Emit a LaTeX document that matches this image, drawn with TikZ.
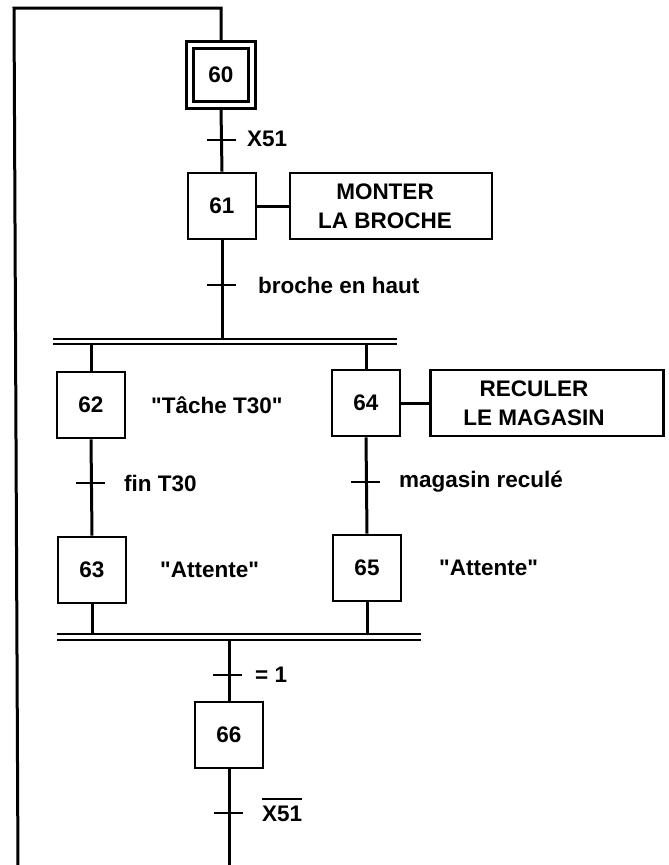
\documentclass[tikz,border=0pt]{standalone}
\usepackage{fontspec}
\setmainfont{Liberation Sans}
\begin{document}
\begin{tikzpicture}[x=1pt,y=-1pt,
  txt/.style={font=\bfseries\fontsize{22.5}{29}\selectfont, inner sep=0pt},
  stepbox/.style={txt, draw, line width=2.7pt, minimum width=68pt, minimum height=66pt},
  initbox/.style={txt, draw, line width=2.4pt, double, double distance=4.6pt,
      minimum width=62pt, minimum height=60pt, outer sep=4.7pt},
  actbox/.style={txt, draw, line width=2.7pt, minimum height=66pt, align=center},
  lnk/.style={line width=3pt},
  bar/.style={line width=2.6pt},
  tick/.style={line width=2.6pt},
  lbl/.style={txt, anchor=west}
]
\clip (0,0) rectangle (669,865);
\useasboundingbox (0,0) rectangle (669,865);

% steps
\node[initbox]  (s60) at (221,75)  {60};
\node[stepbox]  (s61) at (222,206) {61};
\node[stepbox]  (s62) at (91,405)  {62};
\node[stepbox]  (s63) at (92,570)  {63};
\node[stepbox]  (s64) at (366,403) {64};
\node[stepbox]  (s65) at (367,568) {65};
\node[stepbox]  (s66) at (229,735) {66};

% actions
\node[actbox, minimum width=202pt] (a61) at (391,206) {};
\node[txt, align=center] (a61t) at (385,206) {MONTER\\LA BROCHE};
\node[actbox, minimum width=233pt] (a64) at (547,403) {};
\node[txt, align=center] (a64t) at (534,403) {RECULER\\LE MAGASIN};

% labels
\node[lbl] (l1) at (247,139) {X51};
\node[lbl] (l2) at (258,285) {broche en haut};
\node[lbl] (l3) at (151,405) {\textquotedbl Tâche T30\textquotedbl};
\node[lbl] (l4) at (124,483) {fin T30};
\node[lbl] (l5) at (160,570) {\textquotedbl Attente\textquotedbl};
\node[lbl] (l6) at (399,482) {magasin reculé};
\node[lbl] (l7) at (439,568) {\textquotedbl Attente\textquotedbl};
\node[lbl] (l8) at (255,675) {= 1};
\node[lbl] (l9) at (262,814) {X51};
\draw[line width=2.4pt] (l9.north west) ++(0,-7) coordinate (ob1) -- (l9.north east |- ob1);

% coordinates
\coordinate (top0) at (14,8);
\coordinate (top1) at (221,8);
\coordinate (bot0) at (18,870);
\coordinate (bot1) at (229,870);
\coordinate (dA) at (53,339);
\coordinate (dB) at (397,339);
\coordinate (dC) at (53,344);
\coordinate (dD) at (397,344);
\coordinate (cA) at (57,634);
\coordinate (cB) at (421,634);
\coordinate (cC) at (57,640);
\coordinate (cD) at (421,640);

% double bars
\draw[bar] (dA) -- (dB);
\draw[bar] (dC) -- (dD);
\draw[bar] (cA) -- (cB);
\draw[bar] (cC) -- (cD);

% links
\draw[lnk] (bot0) -- (top0) -- (top1) -- (s60.north);
\draw[lnk] (s60.south) -- (s61.north);
\draw[lnk] (s61.south) -- (s61.south |- dA);
\draw[lnk] (s61.east) -- (a61.west);
\draw[lnk] (s62.north |- dC) -- (s62.north);
\draw[lnk] (s64.north |- dC) -- (s64.north);
\draw[lnk] (s64.east) -- (a64.west);
\draw[lnk] (s62.south) -- (s63.north);
\draw[lnk] (s64.south) -- (s65.north);
\draw[lnk] (s63.south) -- (s63.south |- cA);
\draw[lnk] (s65.south) -- (s65.south |- cA);
\draw[lnk] (s66.north |- cC) -- (s66.north);
\draw[lnk] (s66.south) -- (bot1);

% transition ticks
\draw[tick] (207,140) -- (236,140);
\draw[tick] (207,285) -- (236,285);
\draw[tick] (76,483) -- (105,483);
\draw[tick] (351,482) -- (380,482);
\draw[tick] (213,675) -- (242,675);
\draw[tick] (214,813) -- (243,813);
\end{tikzpicture}
\end{document}
